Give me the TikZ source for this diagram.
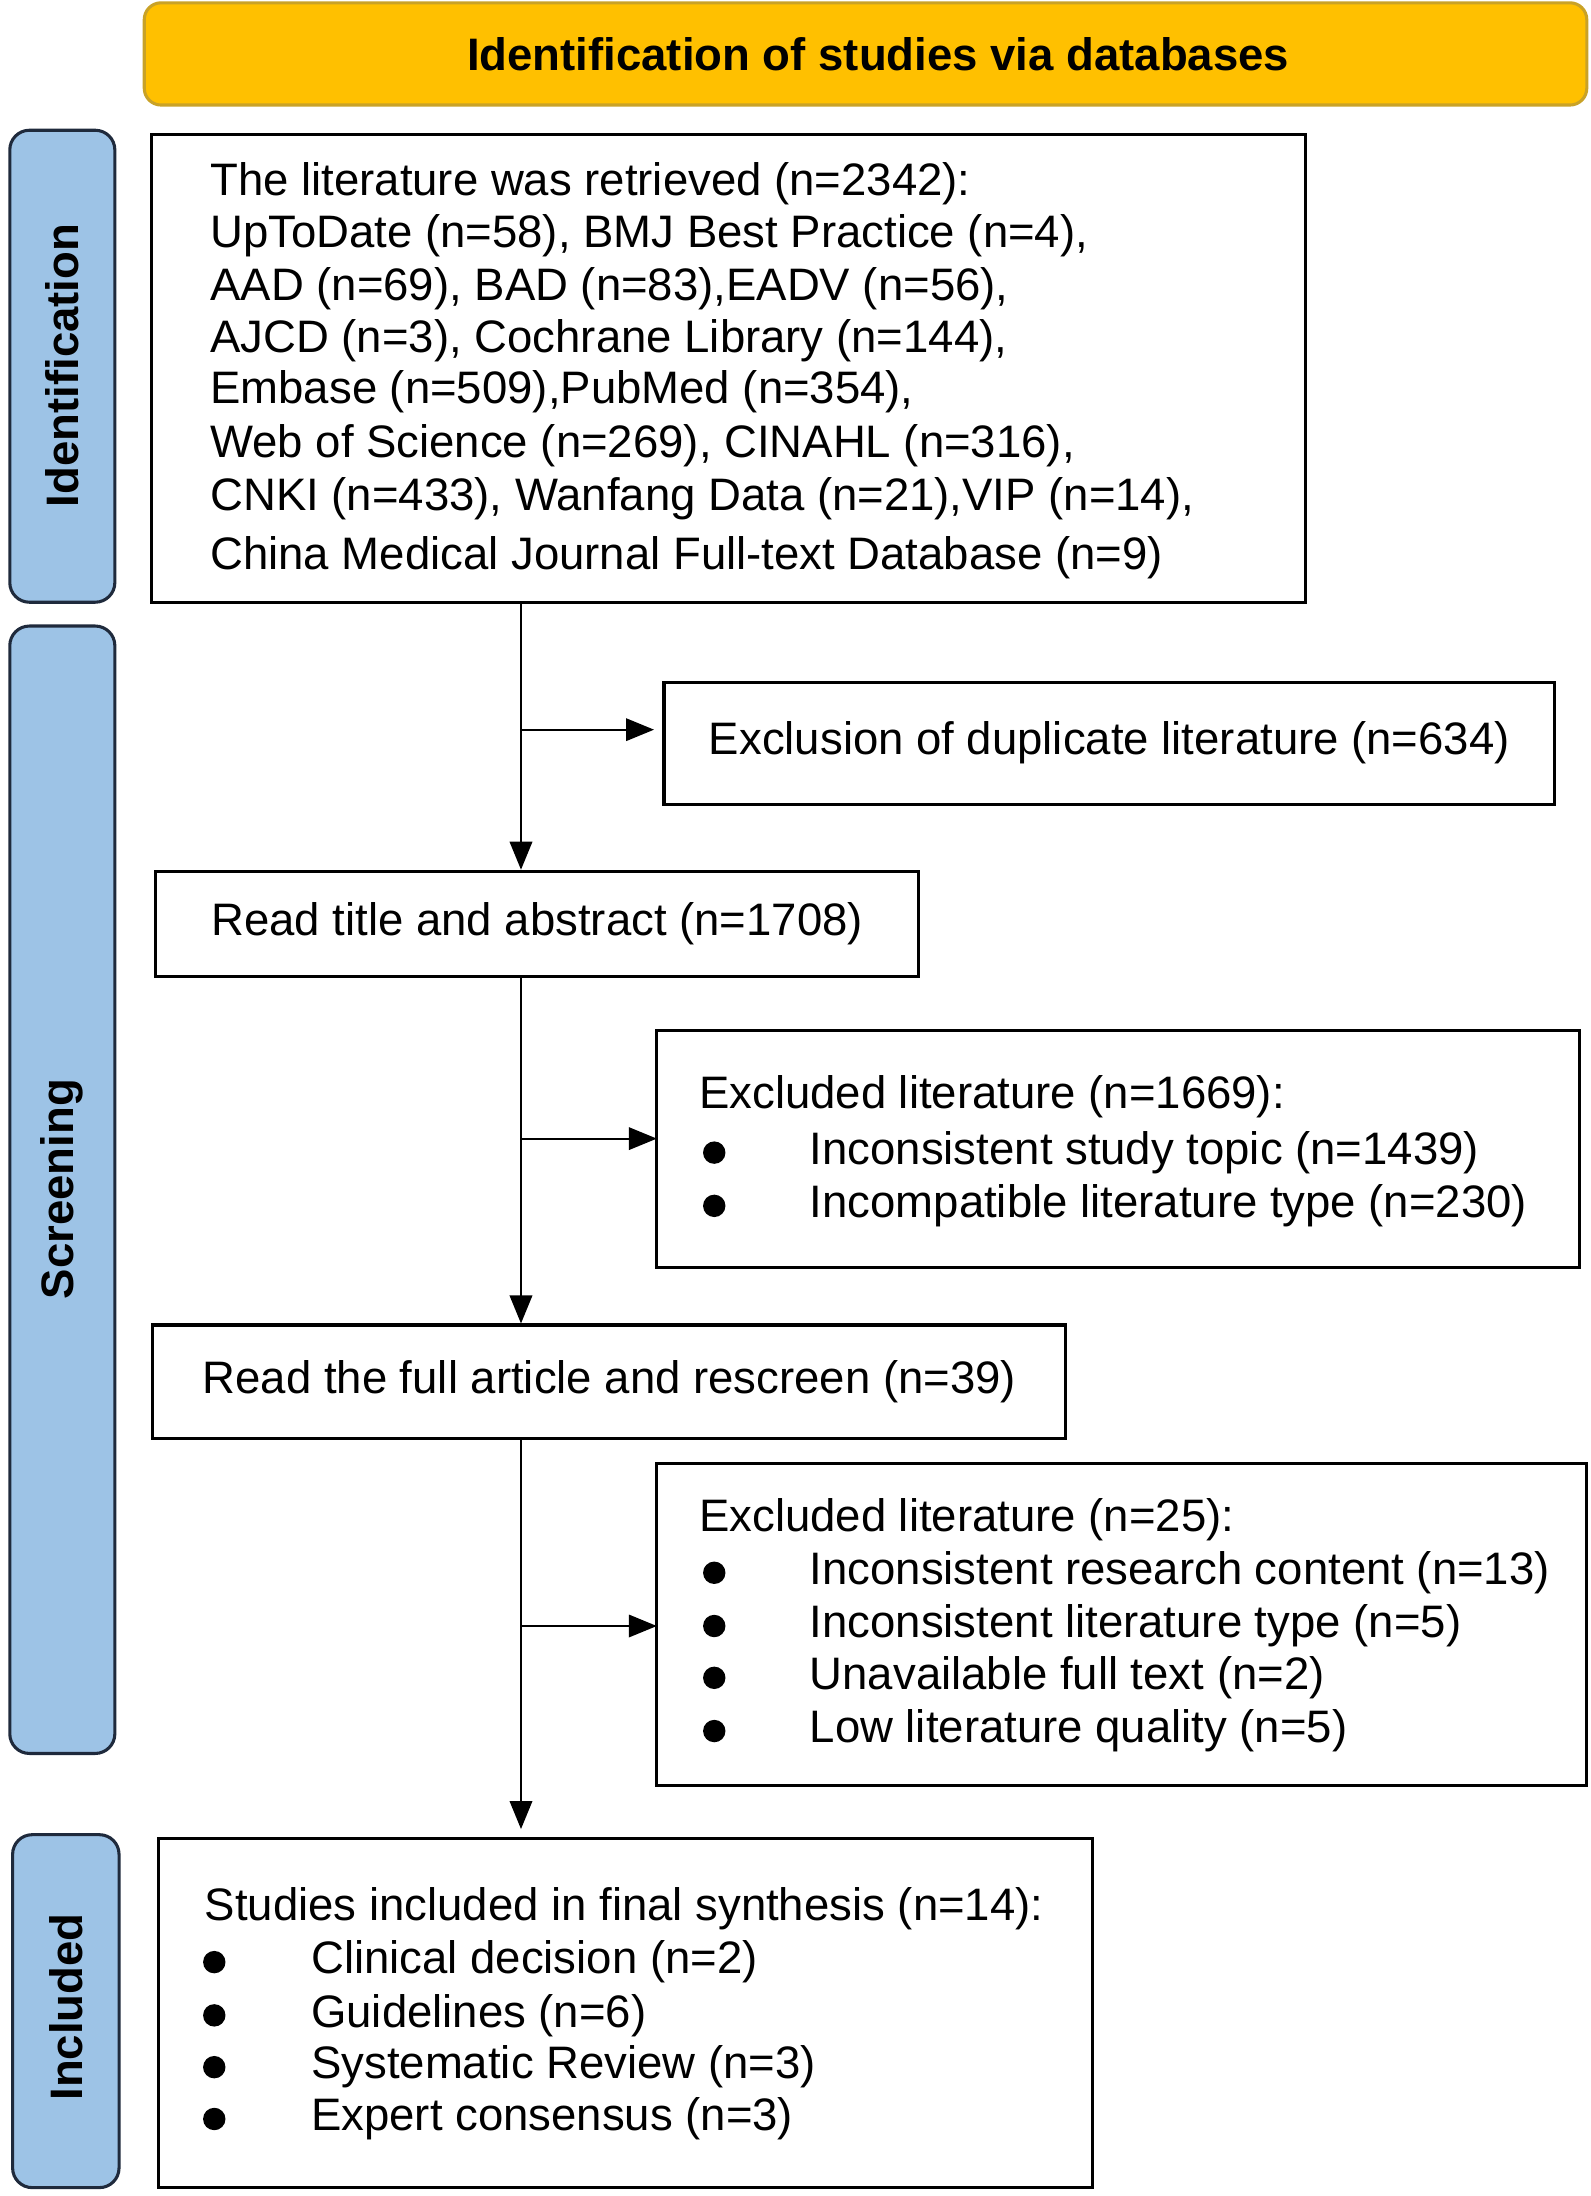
\documentclass[tikz,border=0pt]{standalone}
\usepackage{fontspec}
\setmainfont{Liberation Sans}
\usetikzlibrary{arrows.meta}
\definecolor{hdr}{HTML}{FFC000}
\definecolor{hdrb}{HTML}{C9A227}
\definecolor{side}{HTML}{9DC3E6}
\definecolor{sideb}{HTML}{1F2A3C}
\newcommand{\fs}{\fontsize{32.5}{32.5}\selectfont}
\begin{document}
\begin{tikzpicture}[x=1pt,y=-1pt,
 box/.style={draw,line width=2.2pt,inner sep=0pt},
 sidebar/.style={draw=sideb,fill=side,line width=2.2pt,rounded corners=14pt},
 sidetxt/.style={rotate=90,font=\fs\bfseries},
 t/.style={anchor=west,font=\fs,inner sep=0pt},
 bul/.style={circle,fill=black,inner sep=0pt,minimum size=16pt},
 arr/.style={line width=1.6pt,-{Triangle[length=20pt,width=16pt]}}]
\useasboundingbox (0,0) rectangle (1136,1568);
% header
\draw[draw=hdrb,fill=hdr,line width=2.2pt,rounded corners=12pt] (103,2) rectangle (1133,75);
\node[font=\fs\bfseries] (hdr) at (627,39) {Identification of studies via databases};
% side bars
\draw[sidebar] (7,93) rectangle (82,430);
\node[sidetxt] (s1) at (44.5,261) {Identification};
\draw[sidebar] (7,447) rectangle (82,1252);
\node[sidetxt] (s2) at (44.5,849) {Screening};
\draw[sidebar] (9,1310) rectangle (85,1562);
\node[sidetxt] (s3) at (47,1433) {Included};
% box1
\draw[box] (108,96) rectangle (932,430);
\coordinate (b1) at (372,430);
\foreach \y/\s in {131/{The literature was retrieved (n=2342):},
 168/{UpToDate (n=58), BMJ Best Practice (n=4),},
 206/{AAD (n=69), BAD (n=83),EADV (n=56),},
 243/{AJCD (n=3), Cochrane Library (n=144),},
 280/{Embase (n=509),PubMed (n=354),},
 318/{Web of Science (n=269), CINAHL (n=316),},
 356/{CNKI (n=433), Wanfang Data (n=21),VIP (n=14),},
 398/{China Medical Journal Full-text Database (n=9)}}
 \node[t] at (150,\y) {\s};
% dup
\node[box,minimum width=636pt,minimum height=87pt,anchor=north west,font=\fs] (dup) at (473,486) {Exclusion of duplicate literature (n=634)};
% read title
\node[box,minimum width=545pt,minimum height=75pt,anchor=north west,font=\fs] (rt) at (110,621) {Read title and abstract (n=1708)};
% excl1
\draw[box] (469,736) rectangle (1128,905);
\coordinate (e1) at (469,813);
\node[t] at (499,783) {Excluded literature (n=1669):};
\foreach \y/\s in {823/{Inconsistent study topic (n=1439)},861/{Incompatible literature type (n=230)}}
 {\node[bul] at (510,\y) {}; \node[t] at (578,\y) {\s};}
% read full
\node[box,minimum width=652pt,minimum height=81pt,anchor=north west,font=\fs] (rf) at (108,945) {Read the full article and rescreen (n=39)};
% excl2
\draw[box] (469,1045) rectangle (1133,1275);
\coordinate (e2) at (469,1161);
\node[t] at (499,1085) {Excluded literature (n=25):};
\foreach \y/\s in {1123/{Inconsistent research content (n=13)},1161/{Inconsistent literature type (n=5)},1198/{Unavailable full text (n=2)},1236/{Low literature quality (n=5)}}
 {\node[bul] at (510,\y) {}; \node[t] at (578,\y) {\s};}
% included
\draw[box] (113,1313) rectangle (780,1562);
\coordinate (inc) at (372,1306);
\node[t] at (146,1363) {Studies included in final synthesis (n=14):};
\foreach \y/\s in {1401/{Clinical decision (n=2)},1439/{Guidelines (n=6)},1476/{Systematic Review (n=3)},1513/{Expert consensus (n=3)}}
 {\node[bul] at (153,\y) {}; \node[t] at (222,\y) {\s};}
% connectors
\coordinate (j1) at (372,521);
\coordinate (j2) at (372,813);
\coordinate (j3) at (372,1161);
\draw[arr] (b1) -- (rt.north -| b1);
\draw[arr] (j1) -- ([xshift=-6pt]dup.west |- j1);
\draw[arr] (rt.south -| b1) -- (rf.north -| b1);
\draw[arr] (j2) -- (e1);
\draw[arr] (rf.south -| b1) -- (inc);
\draw[arr] (j3) -- (e2);
\end{tikzpicture}
\end{document}
